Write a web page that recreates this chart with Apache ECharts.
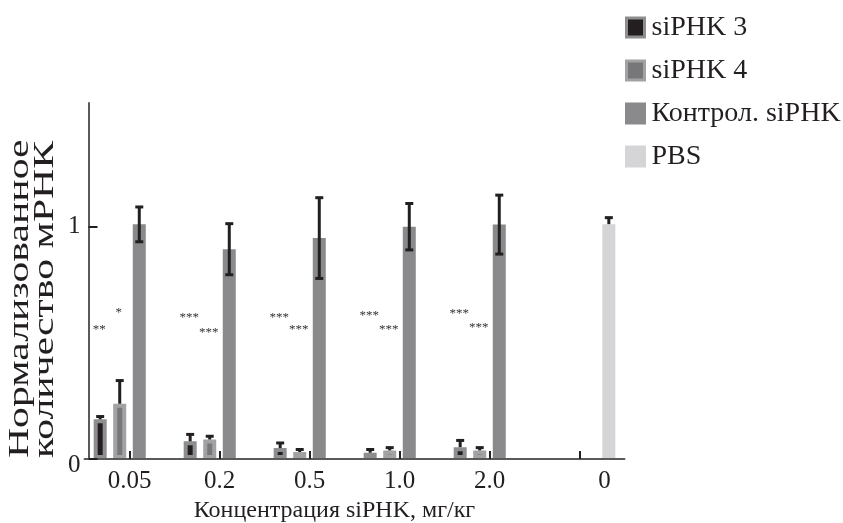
<!DOCTYPE html>
<html>
<head>
<meta charset="utf-8">
<script src="https://cdn.jsdelivr.net/npm/echarts@6/dist/echarts.min.js"></script>
<style>html,body{margin:0;padding:0;background:#fff;}#c{width:843px;height:523px;}</style>
</head>
<body>
<div id="c"></div>
<script>
const categories = ['0.05', '0.2', '0.5', '1.0', '2.0', '0'];
const si3 = [0.171, 0.076, 0.047, 0.027, 0.051, null];
const si3Err = [0.012, 0.03, 0.022, 0.014, 0.029, null];
const si4 = [0.238, 0.084, 0.030, 0.037, 0.037, null];
const si4Err = [0.1, 0.014, 0.011, 0.012, 0.012, null];
const ctrl = [1.011, 0.904, 0.952, 1.001, 1.010, null];
const ctrlErr = [0.075, 0.11, 0.174, 0.1, 0.127, null];
const pbs = [null, null, null, null, null, 1.012];
const pbsErr = [null, null, null, null, null, 0.028];
const sig3 = ['**', '***', '***', '***', '***'];
const sig3Y = [0.568, 0.62, 0.616, 0.628, 0.637];
const sig4 = ['*', '***', '***', '***', '***'];
const sig4Y = [0.641, 0.555, 0.568, 0.568, 0.577];
const yTicks = [0, 1];
const seriesNames = ['siPHK 3', 'siPHK 4', 'Контрол. siPHK', 'PBS'];
const xTitle = 'Концентрация siPHK, мг/кг';
const yTitle = 'Нормализованное\nколичество мРНК';

const FONT = 'Liberation Serif';
const TXT = '#231f20';
const BAR_W = 13;
const GAP = 0.504;
const PITCH = BAR_W * (1 + GAP);
function slotOffset(slot) { return (slot - 1.5) * PITCH; }

function errData(vals, errs) {
  const out = [];
  vals.forEach((v, i) => { if (v != null) out.push([i, v, errs[i]]); });
  return out;
}
function errSeries(name, slot, vals, errs, twoSided) {
  return {
    type: 'custom', name: name, z: 5,
    encode: { x: 0, y: 1 },
    data: errData(vals, errs),
    renderItem: function (params, api) {
      const i = api.value(0), v = api.value(1), e = api.value(2);
      const top = api.coord([i, v + e]);
      const bot = api.coord([i, twoSided ? v - e : v]);
      const x = top[0] + slotOffset(slot);
      const st = { stroke: TXT, lineWidth: 3 };
      const children = [
        { type: 'line', shape: { x1: x, y1: top[1], x2: x, y2: bot[1] }, style: st },
        { type: 'line', shape: { x1: x - 4, y1: top[1], x2: x + 4, y2: top[1] }, style: st }
      ];
      if (twoSided) children.push({ type: 'line', shape: { x1: x - 4, y1: bot[1], x2: x + 4, y2: bot[1] }, style: st });
      return { type: 'group', children: children };
    }
  };
}
function sigSeries(name, slot, labels, ys) {
  return {
    type: 'custom', name: name, z: 5,
    encode: { x: 0, y: 1 },
    data: ys.map((y, i) => [i, y]),
    renderItem: function (params, api) {
      const p = api.coord([api.value(0), api.value(1)]);
      return {
        type: 'text', x: p[0] + slotOffset(slot) - 1, y: p[1] + 2,
        style: { text: labels[params.dataIndex], fill: '#333', font: '13px "' + FONT + '"', align: 'center', verticalAlign: 'middle' }
      };
    }
  };
}

const chart = echarts.init(document.getElementById('c'), null, { renderer: 'canvas' });
const option = {
  animation: false,
  backgroundColor: '#fff',
  textStyle: { fontFamily: FONT, color: TXT },
  grid: { left: 84.5, right: 218.5, top: 103, bottom: 64, containLabel: false, outerBoundsMode: 'none' },
  graphic: [{
    type: 'text', x: 58, y: 458, rotation: Math.PI / 2, scaleX: 1.39, scaleY: 1,
    style: { text: yTitle, font: '30px "' + FONT + '"', lineHeight: 25, fill: TXT, align: 'left', verticalAlign: 'bottom' }
  }],
  legend: {
    orient: 'vertical', left: 620, top: 8.5,
    itemWidth: 18, itemHeight: 19, itemGap: 15,
    icon: 'rect',
    textStyle: { fontFamily: FONT, fontSize: 28, color: TXT, padding: [0, 0, 0, 2] },
    data: [
      { name: seriesNames[0], itemStyle: { color: '#231f20', borderColor: '#8e8e90', borderWidth: 3 } },
      { name: seriesNames[1], itemStyle: { color: '#77777a', borderColor: '#a2a2a4', borderWidth: 3 } },
      { name: seriesNames[2], itemStyle: { color: '#8a8a8d', borderColor: '#8a8a8d', borderWidth: 3 } },
      { name: seriesNames[3], itemStyle: { color: '#d5d5d7', borderColor: '#d5d5d7', borderWidth: 3 } }
    ]
  },
  xAxis: {
    type: 'category', data: categories, z: 4,
    name: xTitle, nameLocation: 'middle', nameGap: 39,
    nameTextStyle: { fontFamily: FONT, fontSize: 24, color: TXT, padding: [0, 40, 0, 0] },
    axisLine: { lineStyle: { color: '#5a5a5c', width: 2 } },
    axisTick: { show: true, inside: true, length: 8, alignWithLabel: true, interval: 0, lineStyle: { color: TXT, width: 2 } },
    axisLabel: {
      interval: 0, margin: 10, fontFamily: FONT, fontSize: 25, color: TXT,
      formatter: function (v, i) { return i === 5 ? '{p|' + v + '}' : v; },
      rich: { p: { padding: [0, 0, 0, 50], fontFamily: FONT, fontSize: 25, color: TXT } }
    },
    splitLine: { show: false }
  },
  yAxis: {
    type: 'value', min: 0, max: 1.534, interval: 1, offset: -4, z: 4,
    axisLine: { show: true, lineStyle: { color: '#5a5a5c', width: 2 } },
    axisTick: { show: true, inside: true, length: 9, customValues: yTicks, lineStyle: { color: TXT, width: 2 } },
    axisLabel: {
      customValues: yTicks, margin: 8, fontFamily: FONT, fontSize: 25, color: TXT,
      formatter: function (v) { return v === 0 ? '{z|0}' : String(v); },
      rich: { z: { padding: [13, 0, 0, 0], fontFamily: FONT, fontSize: 25, color: TXT } }
    },
    splitLine: { show: false }
  },
  series: [
    { type: 'bar', name: seriesNames[0], data: si3, barWidth: BAR_W, barGap: (GAP * 100) + '%', z: 2,
      itemStyle: { color: '#231f20', borderColor: '#8e8e90', borderWidth: 4 } },
    { type: 'bar', name: seriesNames[1], data: si4, barWidth: BAR_W, barGap: (GAP * 100) + '%', z: 2,
      itemStyle: { color: '#77777a', borderColor: '#a2a2a4', borderWidth: 4 } },
    { type: 'bar', name: seriesNames[2], data: ctrl, barWidth: BAR_W, barGap: (GAP * 100) + '%', z: 2,
      itemStyle: { color: '#8a8a8d', borderColor: '#8a8a8d', borderWidth: 4 } },
    { type: 'bar', name: seriesNames[3], data: pbs, barWidth: BAR_W, barGap: (GAP * 100) + '%', z: 2,
      itemStyle: { color: '#d5d5d7', borderColor: '#d5d5d7', borderWidth: 4 } },
    errSeries('err3', 0, si3, si3Err, false),
    errSeries('err4', 1, si4, si4Err, false),
    errSeries('errC', 2, ctrl, ctrlErr, true),
    errSeries('errP', 3, pbs, pbsErr, false),
    sigSeries('sig3', 0, sig3, sig3Y),
    sigSeries('sig4', 1, sig4, sig4Y)
  ]
};
chart.setOption(option);
</script>
</body>
</html>
